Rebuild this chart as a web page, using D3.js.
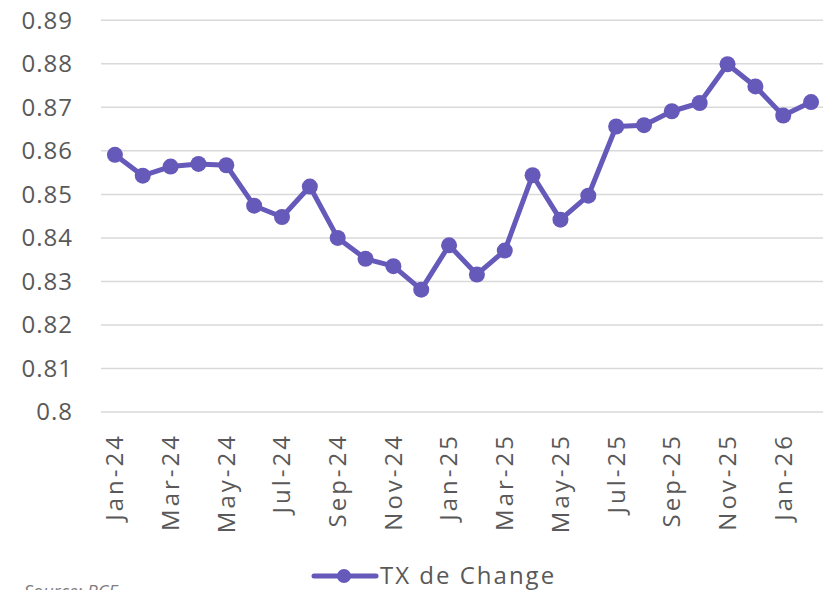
<!DOCTYPE html>
<html>
<head>
<meta charset="utf-8">
<script src="https://cdn.jsdelivr.net/npm/d3@7"></script>
<style>
  body { margin: 0; background: #fff; }
  text { font-family: "Open Sans", sans-serif; fill: #595959; }
</style>
</head>
<body>
<div id="chart"></div>
<script>
// data
var months = ["Jan-24","Feb-24","Mar-24","Apr-24","May-24","Jun-24","Jul-24","Aug-24","Sep-24","Oct-24","Nov-24","Dec-24",
  "Jan-25","Feb-25","Mar-25","Apr-25","May-25","Jun-25","Jul-25","Aug-25","Sep-25","Oct-25","Nov-25","Dec-25",
  "Jan-26","Feb-26"];
var rates = [0.8591,0.8543,0.8564,0.8570,0.8567,0.8474,0.8448,0.8518,0.8400,0.8352,0.8335,0.8281,
  0.8383,0.8316,0.8371,0.8544,0.8442,0.8497,0.8656,0.8659,0.8691,0.8710,0.8799,0.8748,
  0.8681,0.8712];
var yTicks = [0.8,0.81,0.82,0.83,0.84,0.85,0.86,0.87,0.88,0.89];
var seriesName = "TX de Change";
var sourceText = "Source: BCE";

var width = 823, height = 590;
var color = "#6559b9";

var svg = d3.select("#chart").append("svg")
  .attr("width", width).attr("height", height);

var x = d3.scaleBand().domain(months).range([101, 825]);
var y = d3.scaleLinear().domain([0.8, 0.89]).range([412, 20.3]);

// gridlines
svg.append("g").selectAll("line")
  .data(yTicks)
  .enter().append("line")
  .attr("x1", 101).attr("x2", 823)
  .attr("y1", function (d) { return y(d); })
  .attr("y2", function (d) { return y(d); })
  .style("stroke", "#d9d9d9")
  .style("stroke-width", 1.5);

// y labels
svg.append("g").selectAll("text")
  .data(yTicks)
  .enter().append("text")
  .attr("x", 73)
  .attr("y", function (d) { return y(d); })
  .attr("dy", "0.35em")
  .attr("text-anchor", "end")
  .style("font-size", "24px")
  .style("letter-spacing", "1px")
  .text(function (d) { return String(+d.toFixed(2)); });

// x labels, every second month
svg.append("g").selectAll("text")
  .data(months.filter(function (d, i) { return i % 2 === 0; }))
  .enter().append("text")
  .attr("transform", function (d) {
    return "translate(" + (x(d) + x.bandwidth() / 2) + ",433) rotate(-90)";
  })
  .attr("dy", "0.35em")
  .attr("text-anchor", "end")
  .style("font-size", "24px")
  .style("letter-spacing", "3px")
  .text(function (d) { return d; });

// line
var line = d3.line()
  .x(function (d, i) { return x(months[i]) + x.bandwidth() / 2; })
  .y(function (d) { return y(d); });

svg.append("path")
  .datum(rates)
  .attr("d", line)
  .style("fill", "none")
  .style("stroke", color)
  .style("stroke-width", 5)
  .style("stroke-linejoin", "round");

svg.append("g").selectAll("circle")
  .data(rates)
  .enter().append("circle")
  .attr("cx", function (d, i) { return x(months[i]) + x.bandwidth() / 2; })
  .attr("cy", function (d) { return y(d); })
  .attr("r", 8)
  .style("fill", color);

// legend
var lg = svg.append("g");
lg.append("line")
  .attr("x1", 314).attr("x2", 376).attr("y1", 576).attr("y2", 576)
  .style("stroke", color).style("stroke-width", 5).style("stroke-linecap", "round");
lg.append("circle").attr("cx", 344).attr("cy", 576).attr("r", 7).style("fill", color);
lg.append("text")
  .attr("x", 380).attr("y", 576).attr("dy", "0.35em")
  .style("font-size", "24px")
  .style("letter-spacing", "2px")
  .text(seriesName);

// source
svg.append("text")
  .attr("x", 24).attr("y", 598)
  .style("font-size", "18px")
  .style("font-style", "italic")
  .style("fill", "#7f7f7f")
  .text(sourceText);
</script>
</body>
</html>
